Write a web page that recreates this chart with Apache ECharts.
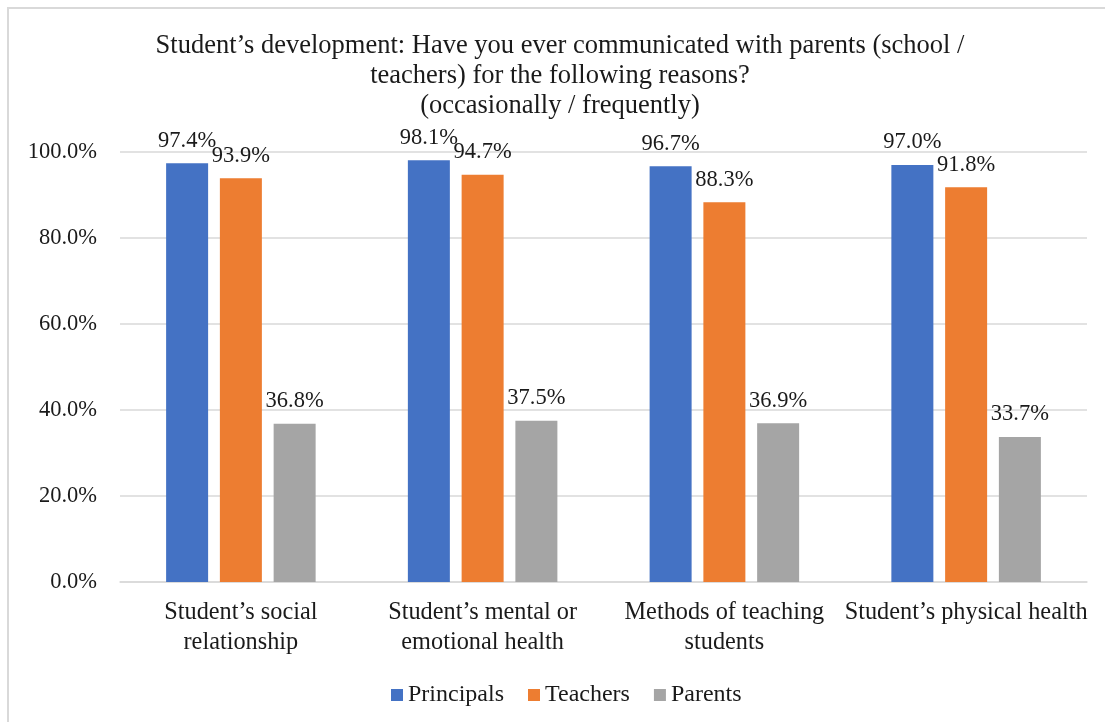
<!DOCTYPE html>
<html>
<head>
<meta charset="utf-8">
<script src="https://cdn.jsdelivr.net/npm/echarts@6/dist/echarts.min.js"></script>
<style>
  html, body { margin: 0; padding: 0; background: #ffffff; overflow: hidden; }
  #chart { position: absolute; left: 0; top: 0; width: 1105px; height: 722px; }
</style>
</head>
<body>
<div id="chart"></div>
<script>
const categories = [
  "Student\u2019s social\nrelationship",
  "Student\u2019s mental or\nemotional health",
  "Methods of teaching\nstudents",
  "Student\u2019s physical health"
];
const principals = [97.4, 98.1, 96.7, 97.0];
const teachers = [93.9, 94.7, 88.3, 91.8];
const parents = [36.8, 37.5, 36.9, 33.7];
const yTicks = [0, 20, 40, 60, 80, 100];

const FONT = '"Liberation Serif", "Times New Roman", serif';
const TXT = '#1a1a1a';

const chart = echarts.init(document.getElementById('chart'), null, { renderer: 'canvas' });

function barSeries(name, data, color) {
  return {
    name: name,
    type: 'bar',
    data: data,
    barWidth: 42,
    barGap: '28%',
    itemStyle: { color: color },
    label: {
      show: true,
      position: 'top',
      distance: 11,
      color: TXT,
      fontFamily: FONT,
      fontSize: 22.5,
      formatter: p => p.value.toFixed(1) + '%'
    }
  };
}

chart.setOption({
  animation: false,
  // chart-area frame: left and top edges
  graphic: [
    { type: 'polyline', silent: true, shape: { points: [[8, 722], [8, 8], [1105, 8]] },
      style: { stroke: '#d9d9d9', lineWidth: 2, fill: null } }
  ],
  title: {
    text: 'Student\u2019s development: Have you ever communicated with parents (school /\nteachers) for the following reasons?\n(occasionally / frequently)',
    left: 560,
    textAlign: 'center',
    top: 31,
    padding: 0,
    textStyle: {
      fontFamily: FONT,
      fontSize: 26.5,
      fontWeight: 'normal',
      color: TXT,
      lineHeight: 30
    }
  },
  legend: {
    left: 386,
    top: 678,
    itemWidth: 12,
    itemHeight: 12,
    itemGap: 24,
    icon: 'rect',
    textStyle: { fontFamily: FONT, fontSize: 24, color: TXT },
    data: ['Principals', 'Teachers', 'Parents']
  },
  grid: { left: 120, right: 18, top: 152, bottom: 140, containLabel: false },
  xAxis: {
    type: 'category',
    data: categories,
    axisLine: { lineStyle: { color: '#d9d9d9', width: 1.5 } },
    axisTick: { show: false },
    axisLabel: {
      fontFamily: FONT,
      fontSize: 24.3,
      color: TXT,
      margin: 16,
      lineHeight: 29.5,
      interval: 0
    }
  },
  yAxis: {
    type: 'value',
    min: yTicks[0],
    max: yTicks[yTicks.length - 1],
    interval: 20,
    axisLine: { show: false },
    axisTick: { show: false },
    splitLine: { lineStyle: { color: '#d9d9d9', width: 1.5 } },
    axisLabel: {
      fontFamily: FONT,
      fontSize: 22.5,
      color: TXT,
      margin: 23,
      formatter: v => v.toFixed(1) + '%'
    }
  },
  series: [
    barSeries('Principals', principals, '#4472C4'),
    barSeries('Teachers', teachers, '#ED7D31'),
    barSeries('Parents', parents, '#A5A5A5')
  ]
});
</script>
</body>
</html>
